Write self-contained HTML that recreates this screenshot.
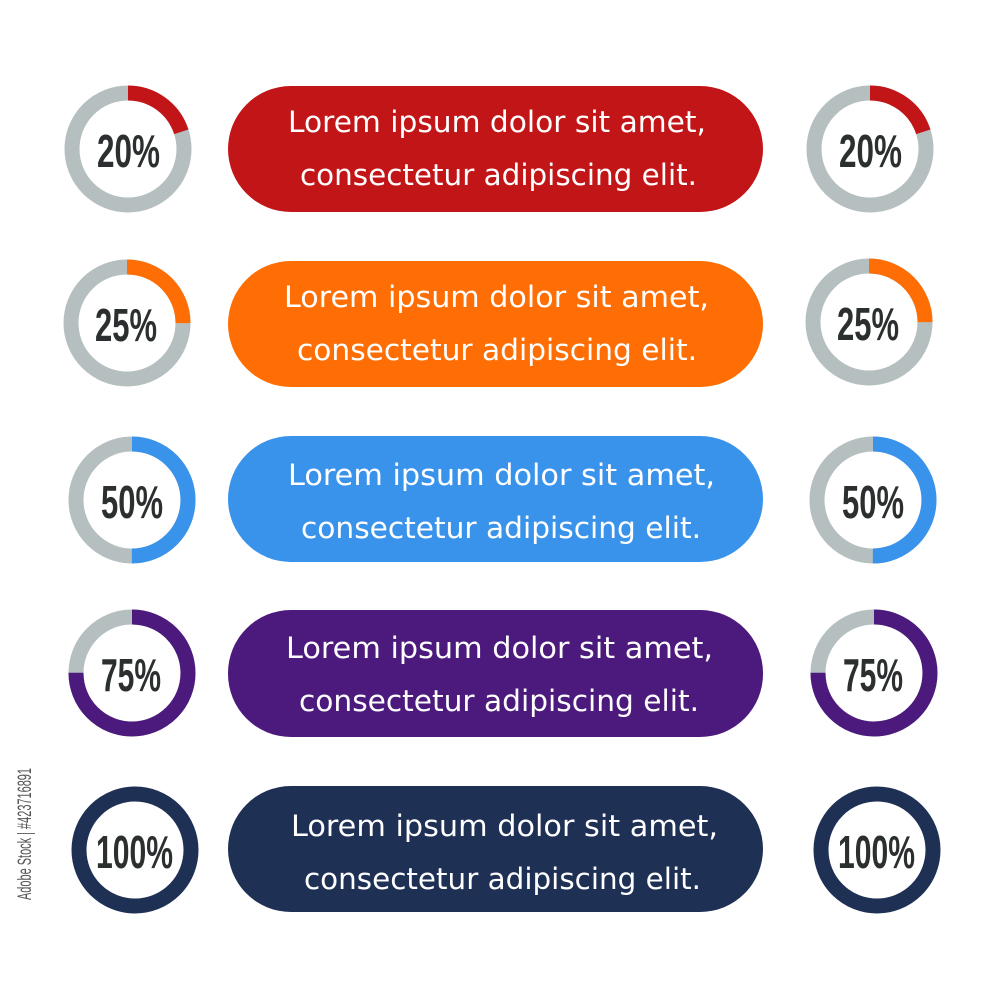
<!DOCTYPE html>
<html><head><style>html,body{margin:0;padding:0;background:#fff}svg{display:block}</style></head>
<body>
<svg width="1000" height="1000" viewBox="0 0 1000 1000" xmlns="http://www.w3.org/2000/svg">
<defs>
<style>
.p{font-family:"Liberation Sans",sans-serif;font-weight:bold;font-size:46px;fill:#2b2f2f}
.t{font-family:"DejaVu Sans","Liberation Sans",sans-serif;font-size:29px;fill:#fff;font-weight:normal}
</style>
</defs>
<rect x="228" y="86" width="535" height="126" rx="63" fill="#c21517"/>
<text class="t" x="288" y="132" textLength="418" lengthAdjust="spacingAndGlyphs">Lorem ipsum dolor sit amet,</text>
<text class="t" x="300" y="185" textLength="397" lengthAdjust="spacingAndGlyphs">consectetur adipiscing elit.</text>
<rect x="228" y="261" width="535" height="126" rx="63" fill="#fe6e05"/>
<text class="t" x="284" y="307" textLength="425" lengthAdjust="spacingAndGlyphs">Lorem ipsum dolor sit amet,</text>
<text class="t" x="297" y="360" textLength="400" lengthAdjust="spacingAndGlyphs">consectetur adipiscing elit.</text>
<rect x="228" y="436" width="535" height="126" rx="63" fill="#3a93ea"/>
<text class="t" x="288" y="485" textLength="427" lengthAdjust="spacingAndGlyphs">Lorem ipsum dolor sit amet,</text>
<text class="t" x="301" y="538" textLength="400" lengthAdjust="spacingAndGlyphs">consectetur adipiscing elit.</text>
<rect x="228" y="610" width="535" height="127" rx="63" fill="#4b1a7c"/>
<text class="t" x="286" y="658" textLength="427" lengthAdjust="spacingAndGlyphs">Lorem ipsum dolor sit amet,</text>
<text class="t" x="299" y="711" textLength="400" lengthAdjust="spacingAndGlyphs">consectetur adipiscing elit.</text>
<rect x="228" y="786" width="535" height="126" rx="63" fill="#1e3054"/>
<text class="t" x="291" y="836" textLength="427" lengthAdjust="spacingAndGlyphs">Lorem ipsum dolor sit amet,</text>
<text class="t" x="304" y="889" textLength="397" lengthAdjust="spacingAndGlyphs">consectetur adipiscing elit.</text>

<g fill="none" stroke-width="15">
<circle cx="128" cy="149" r="56" stroke="#b5bfbf"/>
<circle cx="128" cy="149" r="56" stroke="#c21517" stroke-dasharray="70.4 400" transform="rotate(-90 128 149)"/>
<circle cx="870" cy="149" r="56" stroke="#b5bfbf"/>
<circle cx="870" cy="149" r="56" stroke="#c21517" stroke-dasharray="70.4 400" transform="rotate(-90 870 149)"/>
<circle cx="127" cy="323" r="56" stroke="#b5bfbf"/>
<circle cx="127" cy="323" r="56" stroke="#fe6e05" stroke-dasharray="88 400" transform="rotate(-90 127 323)"/>
<circle cx="869" cy="322" r="56" stroke="#b5bfbf"/>
<circle cx="869" cy="322" r="56" stroke="#fe6e05" stroke-dasharray="88 400" transform="rotate(-90 869 322)"/>
<circle cx="132" cy="500" r="56" stroke="#b5bfbf"/>
<circle cx="132" cy="500" r="56" stroke="#3a93ea" stroke-dasharray="175.9 400" transform="rotate(-90 132 500)"/>
<circle cx="873" cy="500" r="56" stroke="#b5bfbf"/>
<circle cx="873" cy="500" r="56" stroke="#3a93ea" stroke-dasharray="175.9 400" transform="rotate(-90 873 500)"/>
<circle cx="132" cy="673" r="56" stroke="#b5bfbf"/>
<circle cx="132" cy="673" r="56" stroke="#4b1a7c" stroke-dasharray="263.9 400" transform="rotate(-90 132 673)"/>
<circle cx="874" cy="673" r="56" stroke="#b5bfbf"/>
<circle cx="874" cy="673" r="56" stroke="#4b1a7c" stroke-dasharray="263.9 400" transform="rotate(-90 874 673)"/>
<circle cx="135" cy="850" r="56" stroke="#1e3054"/>
<circle cx="877" cy="850" r="56" stroke="#1e3054"/>
</g>

<text class="p" x="97" y="167" textLength="63" lengthAdjust="spacingAndGlyphs">20%</text>
<text class="p" x="839" y="167" textLength="63" lengthAdjust="spacingAndGlyphs">20%</text>
<text class="p" x="95" y="341" textLength="62" lengthAdjust="spacingAndGlyphs">25%</text>
<text class="p" x="837" y="340" textLength="62" lengthAdjust="spacingAndGlyphs">25%</text>
<text class="p" x="101" y="518" textLength="62" lengthAdjust="spacingAndGlyphs">50%</text>
<text class="p" x="842" y="518" textLength="62" lengthAdjust="spacingAndGlyphs">50%</text>
<text class="p" x="101" y="691" textLength="60" lengthAdjust="spacingAndGlyphs">75%</text>
<text class="p" x="843" y="691" textLength="60" lengthAdjust="spacingAndGlyphs">75%</text>
<text class="p" x="96" y="868" textLength="77" lengthAdjust="spacingAndGlyphs">100%</text>
<text class="p" x="838" y="868" textLength="77" lengthAdjust="spacingAndGlyphs">100%</text>

<text transform="translate(31 900) rotate(-90)" font-family="Liberation Sans,sans-serif" font-size="19" fill="#555" textLength="132" lengthAdjust="spacingAndGlyphs">Adobe Stock | #423716891</text>
</svg>
</body></html>
